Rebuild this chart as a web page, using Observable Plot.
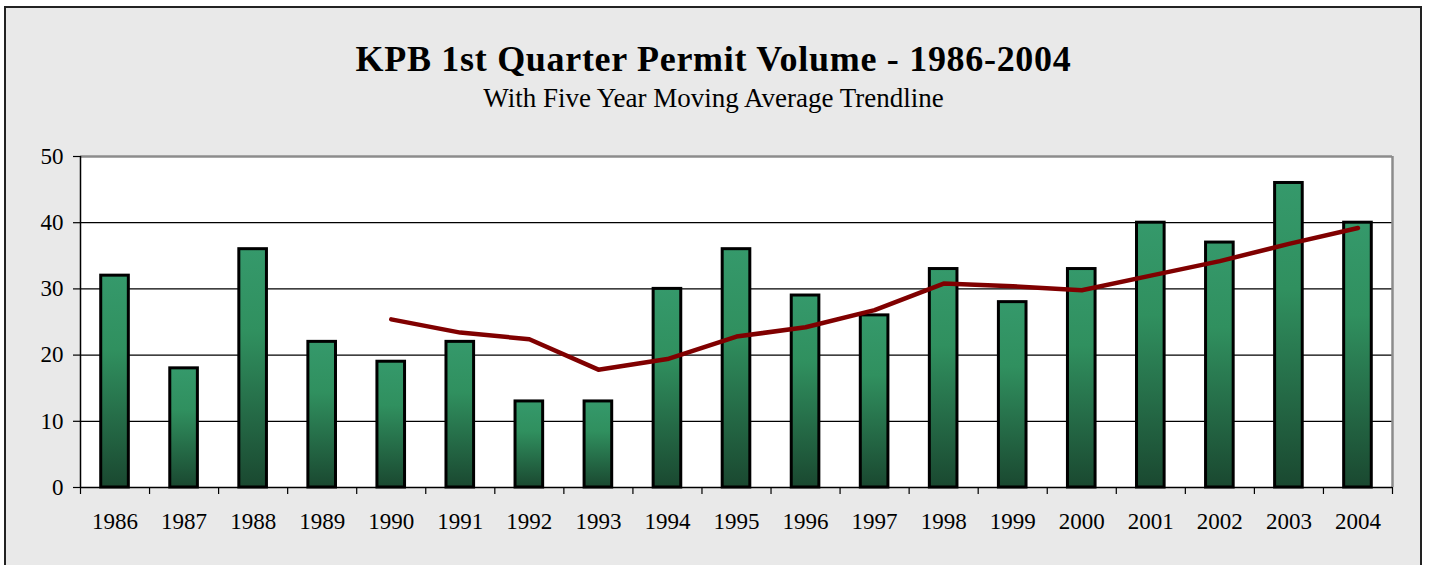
<!DOCTYPE html>
<html>
<head>
<meta charset="utf-8">
<script src="https://cdn.jsdelivr.net/npm/d3@7"></script>
<script src="https://cdn.jsdelivr.net/npm/@observablehq/plot@0.6"></script>
<style>
  html, body { margin: 0; padding: 0; background: #ffffff; width: 1429px; height: 565px; overflow: hidden; }
  #box { position: absolute; left: 4px; top: 6px; width: 1414px; height: 600px; background: #e9e9e9;
         border-left: 2px solid #222; border-top: 2px solid #222; border-right: 2px solid #222; }
  #title { position: absolute; left: 0; top: 39px; width: 1427px; text-align: center; line-height: 1.15;
           font-family: "Liberation Serif", "Times New Roman", serif; font-weight: bold; font-size: 36px; letter-spacing: 0.7px; color: #000; white-space: nowrap; }
  #subtitle { position: absolute; left: 0; top: 83px; width: 1427px; text-align: center; line-height: 1.15;
           font-family: "Liberation Serif", "Times New Roman", serif; font-size: 27px; color: #000; white-space: nowrap; }
  #chart { position: absolute; left: 0; top: 140px; }
</style>
</head>
<body>
<div id="box"></div>
<div id="title">KPB 1st Quarter Permit Volume - 1986-2004</div>
<div id="subtitle">With Five Year Moving Average Trendline</div>
<div id="chart"></div>
<script>
const years = [1986, 1987, 1988, 1989, 1990, 1991, 1992, 1993, 1994, 1995, 1996, 1997, 1998, 1999, 2000, 2001, 2002, 2003, 2004];
const permits = [32, 18, 36, 22, 19, 22, 13, 13, 30, 36, 29, 26, 33, 28, 33, 40, 37, 46, 40];
const avgYears = [1990, 1991, 1992, 1993, 1994, 1995, 1996, 1997, 1998, 1999, 2000, 2001, 2002, 2003, 2004];
const movingAvg = [25.4, 23.4, 22.4, 17.8, 19.4, 22.8, 24.2, 26.8, 30.8, 30.4, 29.8, 32.0, 34.2, 36.8, 39.2];
const yTicks = [0, 10, 20, 30, 40, 50];

const bars = years.map((y, i) => ({year: y, value: permits[i]}));
const trend = avgYears.map((y, i) => ({year: y, value: movingAvg[i]}));
const boundaries = years.map(y => y - 0.5).concat([years[years.length - 1] + 0.5]);
const xMin = years[0] - 0.5, xMax = years[years.length - 1] + 0.5;

function gradientDefs() {
  const ns = "http://www.w3.org/2000/svg";
  const defs = document.createElementNS(ns, "defs");
  const g = document.createElementNS(ns, "linearGradient");
  g.setAttribute("id", "barGrad");
  g.setAttribute("x1", "0"); g.setAttribute("y1", "0");
  g.setAttribute("x2", "0"); g.setAttribute("y2", "1");
  [["0", "#35996b"], ["0.35", "#30905f"], ["1", "#1a4830"]].forEach(([o, c]) => {
    const s = document.createElementNS(ns, "stop");
    s.setAttribute("offset", o); s.setAttribute("stop-color", c);
    g.appendChild(s);
  });
  defs.appendChild(g);
  return defs;
}

const plot = Plot.plot({
  width: 1429,
  height: 425,
  marginLeft: 80,
  marginRight: 37,
  marginTop: 16,
  marginBottom: 78,
  style: {background: "transparent", fontFamily: "'Liberation Serif', 'Times New Roman', serif", fontSize: "23px", color: "#000"},
  x: {domain: [xMin, xMax]},
  y: {domain: [0, 50]},
  marks: [
    gradientDefs,
    Plot.rect([0], {x1: xMin, x2: xMax, y1: 0, y2: 50, fill: "#ffffff"}),
    Plot.ruleY([10, 20, 30, 40], {stroke: "#000", strokeWidth: 1.2}),
    Plot.rectY(bars, {x1: d => d.year - 0.2, x2: d => d.year + 0.2, y: "value", fill: "url(#barGrad)", stroke: "#000", strokeWidth: 3}),
    Plot.ruleY([50], {stroke: "#8c8c8c", strokeWidth: 2.5}),
    Plot.ruleX([xMax], {stroke: "#8c8c8c", strokeWidth: 2.5}),
    Plot.ruleX([xMin], {stroke: "#000", strokeWidth: 1.5}),
    Plot.ruleY([0], {stroke: "#000", strokeWidth: 1.5}),
    Plot.line(trend, {x: "year", y: "value", stroke: "#800000", strokeWidth: 4.5, strokeLinecap: "round", strokeLinejoin: "round"}),
    Plot.axisY({ticks: yTicks, tickSize: 7, tickPadding: 10, label: null, fontSize: 23, strokeWidth: 1.2}),
    Plot.axisX({ticks: years, tickSize: 0, tickPadding: 25, tickFormat: d => String(d), label: null, fontSize: 23}),
    Plot.axisX({ticks: boundaries, tickSize: 7, tickFormat: () => "", label: null, strokeWidth: 1.2})
  ]
});
document.getElementById("chart").appendChild(plot);
</script>
</body>
</html>
